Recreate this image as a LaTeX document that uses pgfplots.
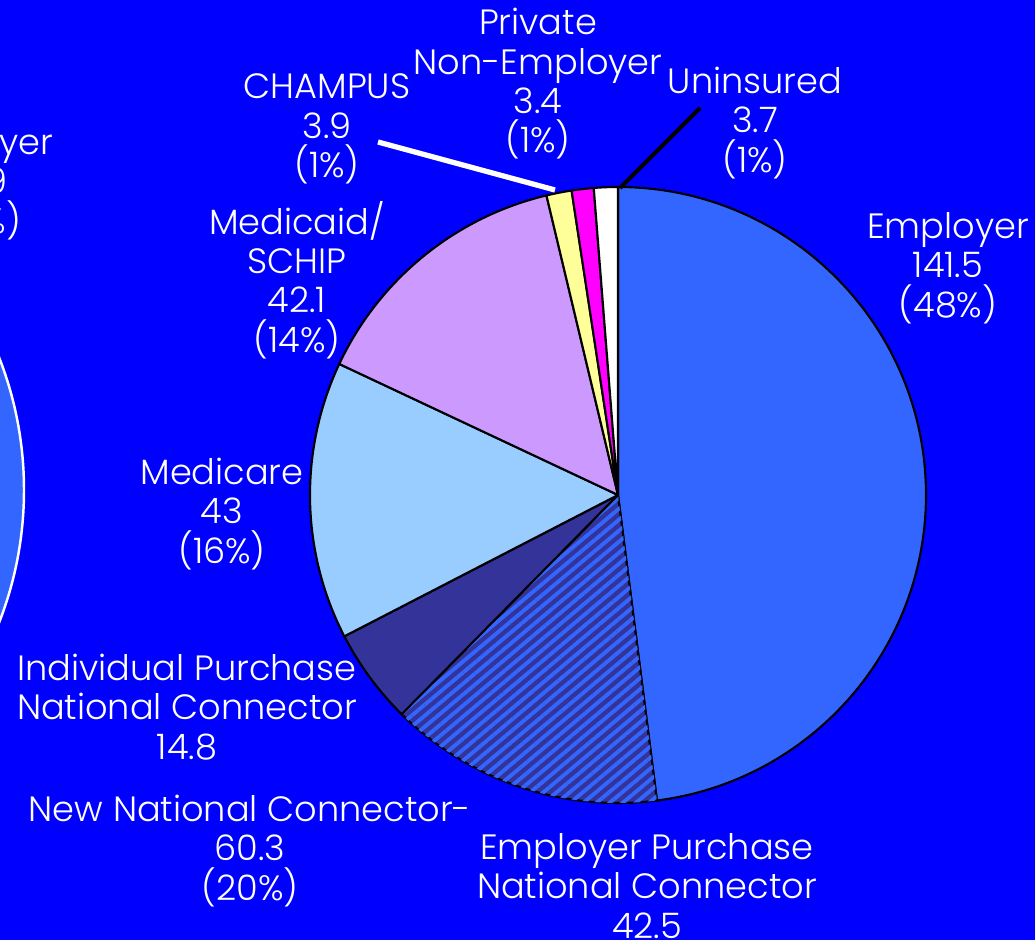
\documentclass[border=0pt]{standalone}
\usepackage{pgfplots}
\usepackage{pgfplotstable}
\pgfplotsset{compat=1.18}
\usetikzlibrary{patterns.meta}
\usepackage{fontspec}
\setmainfont{Poppins Light}

\definecolor{bgblue}{HTML}{0000FF}
\definecolor{empblue}{HTML}{3366FF}
\definecolor{dkblue}{HTML}{333399}
\definecolor{ltblue}{HTML}{99CCFF}
\definecolor{lilac}{HTML}{CC99FF}
\definecolor{ltyellow}{HTML}{FFFF99}
\definecolor{pink}{HTML}{FF00FF}

\tikzset{
  sEmp/.style={fill=empblue},
  sHatch/.style={fill=dkblue, postaction={pattern={Lines[angle=40,distance=2.4pt,line width=1.1pt]}, pattern color=empblue}},
  sInd/.style={fill=dkblue},
  sMcare/.style={fill=ltblue},
  sMcaid/.style={fill=lilac},
  sChamp/.style={fill=ltyellow},
  sPriv/.style={fill=pink},
  sUnins/.style={fill=white},
  lbl/.style={text=white, align=center, font=\fontsize{10}{11.2}\selectfont},
}

% sectors clockwise from 12 o'clock
\pgfplotstableread{
name value style
Employer 141.5 sEmp
EmployerPurchase 42.5 sHatch
IndividualPurchase 14.8 sInd
Medicare 43 sMcare
Medicaid 42.1 sMcaid
CHAMPUS 3.9 sChamp
Private 3.4 sPriv
Uninsured 3.7 sUnins
}\piedata

\begin{document}
\begin{tikzpicture}
\pgfplotstablegetrowsof{\piedata}
\pgfmathtruncatemacro\nrows{\pgfplotsretval-1}
\def\total{0}
\pgfplotsforeachungrouped \i in {0,...,\nrows}{
  \pgfplotstablegetelem{\i}{value}\of\piedata
  \pgfmathsetmacro\total{\total+\pgfplotsretval}
}
\def\cx{6.18}\def\cy{4.45}\def\R{3.08}
\begin{axis}[
  x=1cm, y=1cm, xmin=0, xmax=10.35, ymin=0, ymax=9.4,
  hide axis, anchor=origin, at={(0,0)},
]
\fill[bgblue] (axis cs:0,0) rectangle (axis cs:10.35,9.4);
\coordinate (bl) at (axis cs:0,0);
\coordinate (tr) at (axis cs:10.35,9.4);
% pie of the previous slide, cut off at the left edge
\filldraw[fill=empblue, draw=white, line width=0.7pt] (axis cs:-3.40,4.50) circle[radius=3.64cm];
\node[lbl] at (axis cs:-0.28,7.56) {Employer\\141.9\\(48\%)};
\def\cum{0}
\pgfplotsforeachungrouped \i in {0,...,\nrows}{
  \pgfplotstablegetelem{\i}{value}\of\piedata \let\v\pgfplotsretval
  \pgfplotstablegetelem{\i}{style}\of\piedata \let\s\pgfplotsretval
  \pgfmathsetmacro\aS{90-\cum/\total*360}
  \pgfmathsetmacro\cum{\cum+\v}
  \pgfmathsetmacro\aE{90-\cum/\total*360}
  \edef\temp{\noexpand\filldraw[\s, draw=black, line width=0.6pt, line join=round]
    (axis cs:\cx,\cy) -- ++(\aS:\R cm) arc[start angle=\aS, end angle=\aE, radius=\R cm] -- cycle;}
  \temp
}
% leader lines
\draw[white, line width=1.5pt] (axis cs:3.78,7.98) -- (axis cs:5.55,7.50);
\draw[black, line width=1.2pt] (axis cs:7.00,8.32) -- (axis cs:6.20,7.52);
% labels
\node[lbl] at (axis cs:9.48,6.72) {Employer\\141.5\\(48\%)};
\node[lbl] at (axis cs:2.97,6.60) {Medicaid/\\SCHIP\\42.1\\(14\%)};
\node[lbl] at (axis cs:3.27,8.11) {CHAMPUS\\3.9\\(1\%)};
\node[lbl] at (axis cs:5.38,8.56) {Private\\Non-Employer\\3.4\\(1\%)};
\node[lbl] at (axis cs:7.55,8.17) {Uninsured\\3.7\\(1\%)};
\node[lbl] at (axis cs:2.22,4.26) {Medicare\\43\\(16\%)};
\node[lbl] at (axis cs:1.87,2.33) {Individual Purchase\\National Connector\\14.8};
\node[lbl] at (axis cs:2.50,0.89) {New National Connector-\\60.3\\(20\%)};
\node[lbl] at (axis cs:6.47,0.54) {Employer Purchase\\National Connector\\42.5};
\end{axis}
\pgfresetboundingbox
\path[use as bounding box] (bl) rectangle (tr);
\end{tikzpicture}
\end{document}
